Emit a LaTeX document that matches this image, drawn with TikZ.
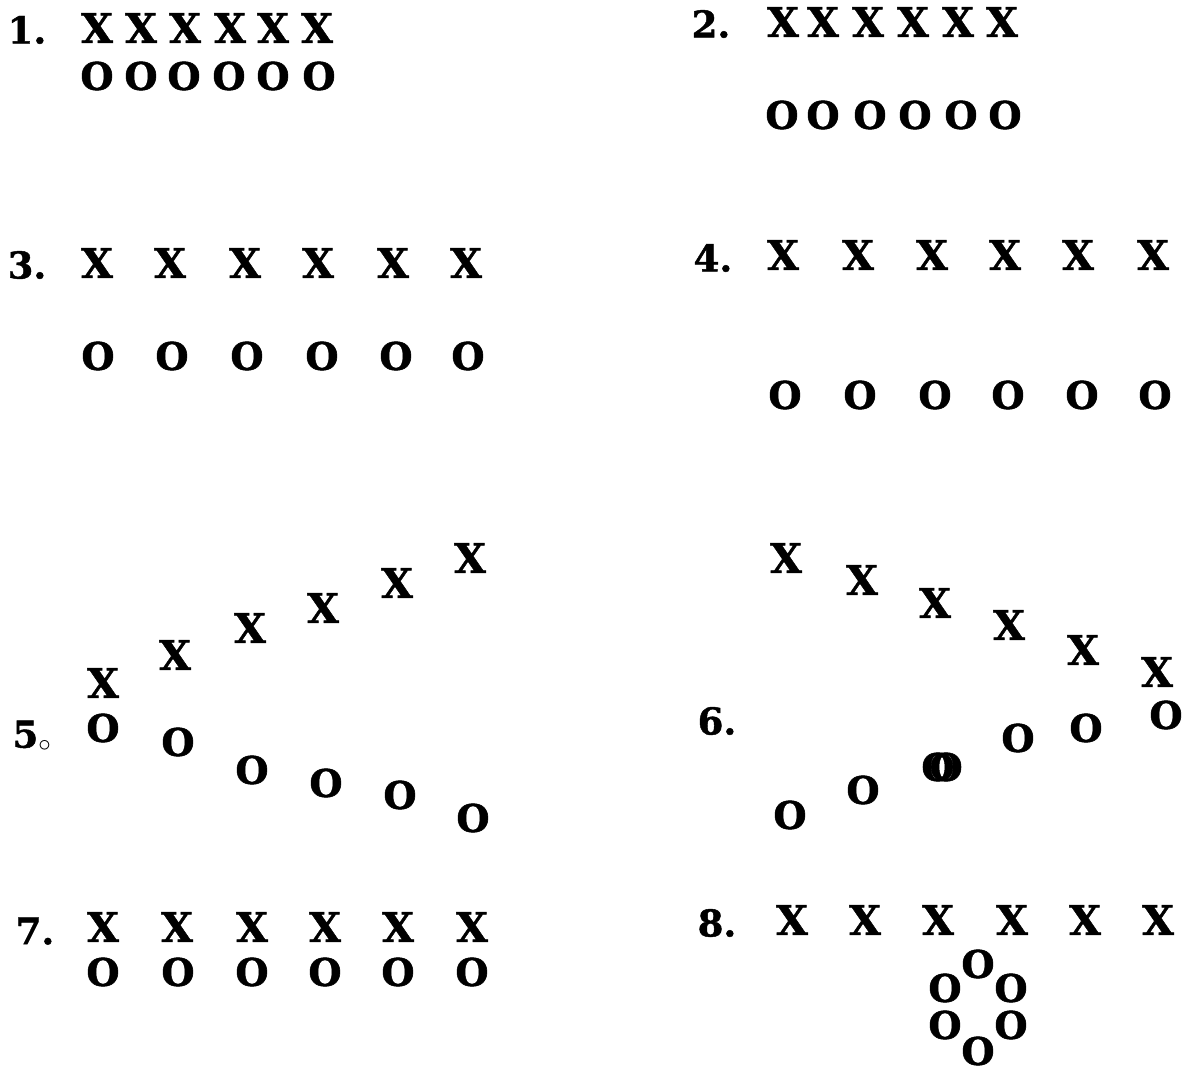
\documentclass[tikz,border=0pt]{standalone}
\usepackage{fontspec}
\newfontfamily\typefont[BoldFeatures={FakeBold=1.2}]{DejaVu Serif}
\newfontfamily\ringfont[BoldFeatures={FakeBold=1.5}]{DejaVu Serif}

\begin{document}
\begin{tikzpicture}[x=1pt, y=-1pt,
  xx/.style={inner sep=0pt, font=\typefont\bfseries\fontsize{41}{41}\selectfont},
  oo/.style={inner sep=0pt, font=\ringfont\bfseries\fontsize{38}{38}\selectfont},
  num/.style={inner sep=0pt, font=\typefont\bfseries\fontsize{37}{37}\selectfont}]
  \useasboundingbox (0,0) rectangle (1184,1073);

  % 1. two close rows
  \node[num] (n1) at (27,30) {1.};
  \foreach \x [count=\i] in {97,141,185,230,273,317}
    \node[xx] (x1-\i) at (\x,28) {X};
  \foreach \x [count=\i] in {97,141,184,229,273,319}
    \node[oo] (o1-\i) at (\x,76) {O};

  % 2. rows further apart
  \node[num] (n2) at (711,24) {2.};
  \foreach \x [count=\i] in {783,823,868,913,958,1002}
    \node[xx] (x2-\i) at (\x,22) {X};
  \foreach \x [count=\i] in {782,823,870,915,961,1005}
    \node[oo] (o2-\i) at (\x,115) {O};

  % 3. wide spacing
  \node[num] (n3) at (27,265) {3.};
  \foreach \x [count=\i] in {97,170,245,318,393,466}
    \node[xx] (x3-\i) at (\x,263) {X};
  \foreach \x [count=\i] in {98,172,247,322,396,468}
    \node[oo] (o3-\i) at (\x,356) {O};

  % 4. wide spacing, rows far apart
  \node[num] (n4) at (713,258) {4.};
  \foreach \x [count=\i] in {783,858,932,1005,1078,1153}
    \node[xx] (x4-\i) at (\x,255) {X};
  \foreach \x [count=\i] in {785,860,935,1008,1082,1155}
    \node[oo] (o4-\i) at (\x,395) {O};

  % 5. X rising, O falling
  \node[num] (n5) at (32,736) {5$_\circ$};
  \foreach \x/\y [count=\i] in {103/683,175/655,250/628,323/608,397/583,470/558}
    \node[xx] (x5-\i) at (\x,\y) {X};
  \foreach \x/\y [count=\i] in {103/728,178/742,252/770,326/783,400/795,473/818}
    \node[oo] (o5-\i) at (\x,\y) {O};

  % 6. X falling, O rising
  \node[num] (n6) at (717,721) {6.};
  \foreach \x/\y [count=\i] in {786/558,862/580,935/603,1009/625,1083/650,1157/672}
    \node[xx] (x6-\i) at (\x,\y) {X};
  \foreach \x/\y [count=\i] in {790/815,863/790,1018/738,1086/728,1166/715}
    \node[oo] (o6-\i) at (\x,\y) {O};
  \node[oo] (o6-x) at (942,767) {O\kern-25pt O};

  % 7. like 3, rows close
  \node[num] (n7) at (35,931) {7.};
  \foreach \x [count=\i] in {103,177,252,325,398,472}
    \node[xx] (x7-\i) at (\x,927) {X};
  \foreach \x [count=\i] in {103,178,252,325,398,472}
    \node[oo] (o7-\i) at (\x,972) {O};

  % 8. O's in a ring below
  \node[num] (n8) at (717,923) {8.};
  \foreach \x [count=\i] in {792,865,938,1012,1085,1158}
    \node[xx] (x8-\i) at (\x,920) {X};
  \foreach \x/\y [count=\i] in {978/964,945/988,1011/988,945/1025,1011/1025,978/1051}
    \node[oo] (o8-\i) at (\x,\y) {O};
\end{tikzpicture}
\end{document}
